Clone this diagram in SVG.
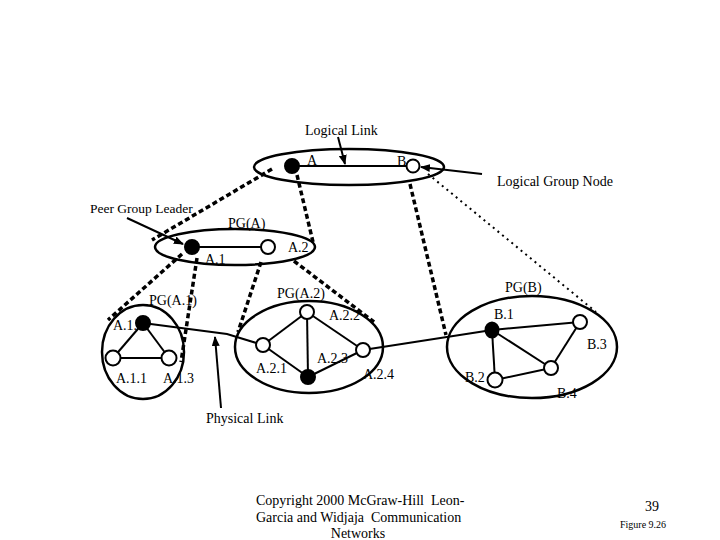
<svg xmlns="http://www.w3.org/2000/svg" width="720" height="540" viewBox="0 0 720 540">
<defs>
<marker id="ah" markerWidth="10" markerHeight="8" refX="9" refY="4" orient="auto" markerUnits="userSpaceOnUse">
<path d="M0,0 L10,4 L0,8 Z" fill="#000"/>
</marker>
<style>
text{font-family:"Liberation Serif","Times New Roman",serif;font-size:14px;fill:#000}
.grp{fill:none;stroke:#000;stroke-width:2.5}
.n{fill:#fff;stroke:#000;stroke-width:2}
.f{fill:#000;stroke:#000;stroke-width:2}
.e{stroke:#000;stroke-width:2;fill:none}
.d{stroke:#000;stroke-width:3.5;fill:none;stroke-dasharray:5 3}
.dot{stroke:#000;stroke-width:2;fill:none;stroke-dasharray:2 4}
.a{stroke:#000;stroke-width:2;fill:none;marker-end:url(#ah)}
</style>
</defs>
<rect width="720" height="540" fill="#fff"/>

<g id="groups">
<ellipse id="top" class="grp" cx="349" cy="167" rx="95" ry="18"/>
<ellipse id="pgA" class="grp" cx="235" cy="247" rx="80" ry="18"/>
<ellipse id="pgA1" class="grp" cx="143" cy="352" rx="41" ry="47"/>
<ellipse id="pgA2" class="grp" cx="309" cy="347" rx="74" ry="46"/>
<ellipse id="pgB" class="grp" cx="532" cy="347" rx="85" ry="51"/>
</g>

<g id="connectors">
<line class="e" x1="292" y1="166" x2="413" y2="166"/>
<line class="e" x1="192" y1="247" x2="268" y2="247"/>
<line class="e" x1="143" y1="323" x2="113" y2="358"/>
<line class="e" x1="143" y1="323" x2="169" y2="358"/>
<line class="e" x1="113" y1="358" x2="169" y2="358"/>
<polyline class="e" points="143,323 227,334 263,345"/>
<line class="e" x1="307" y1="312" x2="263" y2="345"/>
<line class="e" x1="307" y1="312" x2="308" y2="377"/>
<line class="e" x1="307" y1="312" x2="363" y2="350"/>
<line class="e" x1="263" y1="345" x2="308" y2="377"/>
<line class="e" x1="308" y1="377" x2="363" y2="350"/>
<line class="e" x1="363" y1="350" x2="492" y2="330"/>
<line class="e" x1="492" y1="330" x2="580" y2="322"/>
<line class="e" x1="492" y1="330" x2="551" y2="368"/>
<line class="e" x1="492" y1="330" x2="495" y2="380"/>
<line class="e" x1="495" y1="380" x2="551" y2="368"/>
<line class="e" x1="551" y1="368" x2="580" y2="322"/>

<line class="d" x1="272" y1="169" x2="152" y2="240"/>
<line class="d" x1="297" y1="175" x2="313" y2="242"/>
<line class="d" x1="410" y1="184" x2="446" y2="335"/>
<line class="dot" x1="428" y1="174" x2="596" y2="312"/>
<line class="d" x1="182" y1="254" x2="108" y2="320"/>
<line class="d" x1="197" y1="258" x2="181" y2="362"/>
<line class="d" x1="261" y1="262" x2="238" y2="332"/>
<line class="d" x1="294" y1="261" x2="374" y2="322"/>

<line class="a" x1="338" y1="137" x2="345" y2="164"/>
<line class="a" x1="482" y1="174" x2="421" y2="167"/>
<line class="a" x1="127" y1="218" x2="183" y2="244"/>
<line class="a" x1="221" y1="408" x2="215" y2="337"/>
</g>

<g id="nodeA"><circle class="f" cx="292" cy="166" r="7"/><text x="307" y="165">A</text></g>
<g id="nodeB"><circle class="n" cx="413" cy="166" r="6.5"/><text x="397" y="166">B</text></g>
<g id="nodeA1"><circle class="f" cx="192" cy="247" r="7"/><text x="205" y="264">A.1</text></g>
<g id="nodeA2"><circle class="n" cx="268" cy="247" r="7"/><text x="288" y="252">A.2</text></g>
<g id="nodeA12"><circle class="f" cx="143" cy="323" r="7"/><text x="113" y="330">A.1.</text></g>
<g id="nodeA11"><circle class="n" cx="113" cy="358" r="7.5"/><text x="116" y="383">A.1.1</text></g>
<g id="nodeA13"><circle class="n" cx="169" cy="358" r="7.5"/><text x="163" y="383">A.1.3</text></g>
<g id="nodeA22"><circle class="n" cx="307" cy="312" r="7"/><text x="329" y="320">A.2.2</text></g>
<g id="nodeA21"><circle class="n" cx="263" cy="345" r="7"/><text x="256" y="373">A.2.1</text></g>
<g id="nodeA23"><circle class="n" cx="363" cy="350" r="7"/><text x="317" y="363">A.2.3</text></g>
<g id="nodeA24"><circle class="f" cx="308" cy="377" r="7"/><text x="363" y="379">A.2.4</text></g>
<g id="nodeB1"><ellipse class="f" cx="492" cy="330" rx="6.5" ry="7.5"/><text x="494" y="319">B.1</text></g>
<g id="nodeB3"><circle class="n" cx="580" cy="322" r="7"/><text x="587" y="349">B.3</text></g>
<g id="nodeB4"><circle class="n" cx="551" cy="368" r="7"/><text x="557" y="398">B.4</text></g>
<g id="nodeB2"><circle class="n" cx="495" cy="380" r="7.5"/><text x="465" y="382">B.2</text></g>

<g id="labels">
<text x="305" y="135">Logical Link</text>
<text x="497" y="186">Logical Group Node</text>
<text x="90" y="213" style="font-size:13.5px">Peer Group Leader</text>
<text x="228" y="228">PG(A)</text>
<text x="149" y="305">PG(A.1)</text>
<text x="277" y="298">PG(A.2)</text>
<text x="505" y="292">PG(B)</text>
<text x="206" y="423">Physical Link</text>
<text x="256" y="505" xml:space="preserve">Copyright 2000 McGraw-Hill  Leon-</text>
<text x="256" y="522" xml:space="preserve">Garcia and Widjaja  Communication</text>
<text x="358" y="538" text-anchor="middle">Networks</text>
<text x="645" y="511">39</text>
<text x="620" y="528" style="font-size:10px">Figure 9.26</text>
</g>
</svg>
